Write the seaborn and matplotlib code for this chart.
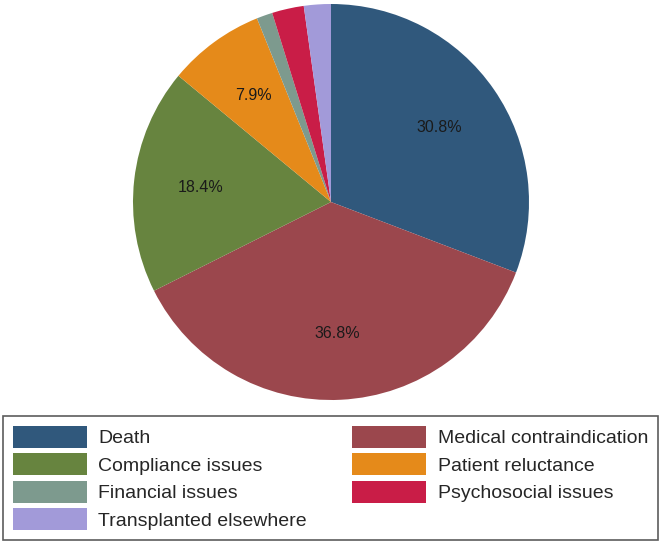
import matplotlib
matplotlib.use("Agg")
import matplotlib.pyplot as plt
import seaborn as sns

# reasons, clockwise from 12 o'clock
reasons = ["Death", "Medical contraindication", "Compliance issues",
           "Patient reluctance", "Financial issues", "Psychosocial issues",
           "Transplanted elsewhere"]
shares = [30.8, 36.8, 18.4, 7.9, 1.3, 2.6, 2.2]
colors = ["#30587c", "#9b474d", "#67843f", "#e58a1a", "#7d9a8e",
          "#c91d47", "#a29ad9"]

sns.set_style("white")
plt.rcParams["font.family"] = ["Liberation Sans", "DejaVu Sans"]

fig = plt.figure(figsize=(6.64, 5.43), dpi=100)
ax = fig.add_axes([133 / 664, 143 / 543, 396 / 664, 396 / 543])

wedges, texts, autotexts = ax.pie(
    shares, colors=colors, startangle=90, counterclock=False,
    autopct=lambda p: f"{p:.1f}%" if p > 5 else "", pctdistance=0.665,
    wedgeprops=dict(linewidth=0),
    textprops=dict(fontsize=11.5, color="#1a1a1a"))
ax.set_xlim(-1, 1)
ax.set_ylim(-1, 1)
ax.set_aspect("equal")

# legend is read row by row in the original, matplotlib fills by column
order = [0, 2, 4, 6, 1, 3, 5]
leg = fig.legend([wedges[i] for i in order], [reasons[i] for i in order],
                 ncol=2, loc="lower left",
                 bbox_to_anchor=(3 / 664, 3 / 543, 655 / 664, 127 / 543),
                 mode="expand", fontsize=14, frameon=True, fancybox=False,
                 handlelength=3.8, handleheight=1.365, labelspacing=0.28,
                 handletextpad=0.6, borderaxespad=0, borderpad=0.5)
leg.get_frame().set_edgecolor("#333333")
leg.get_frame().set_linewidth(1.2)

fig.savefig("out.png", dpi=100)
